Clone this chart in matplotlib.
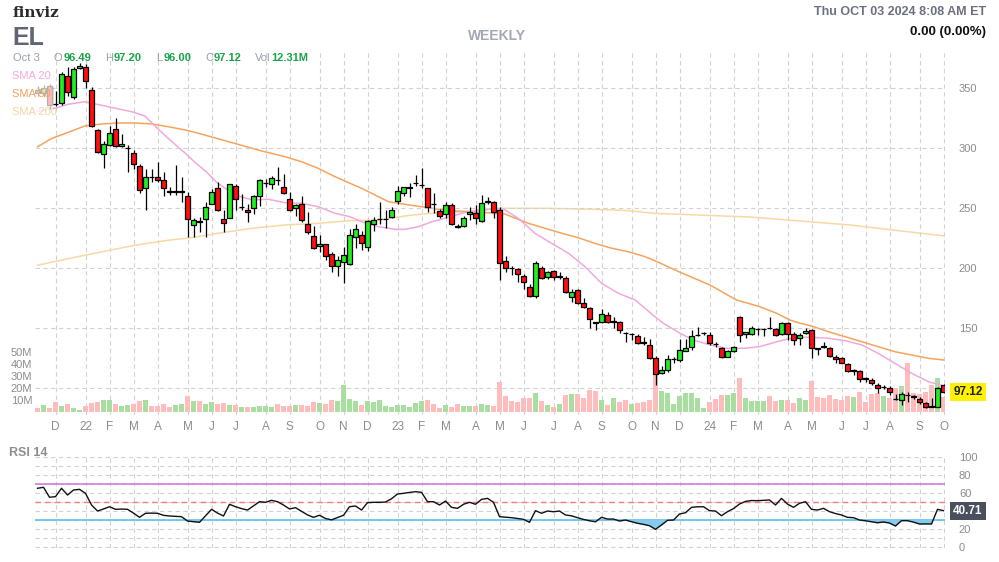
import numpy as np
import pandas as pd
import matplotlib
matplotlib.use('Agg')
import matplotlib.pyplot as plt
from matplotlib.patches import Rectangle
from matplotlib.transforms import blended_transform_factory

plt.rcParams['font.family'] = ['Liberation Sans', 'DejaVu Sans']

# weekly bars, week of 2021-11-08 up to week of 2024-09-30
weeks = pd.date_range('2021-11-08', periods=152, freq='W-MON')

opens = [349, 346, 352, 337, 338, 360, 343, 367, 368, 349,
         315, 295, 303, 316, 302, 300, 296, 285, 267, 276,
         276, 274, 264.1, 264, 264, 260, 236, 239, 241, 254,
         267, 241, 242, 268.5, 251, 249, 250, 260.5, 271, 270,
         273.6, 267.5, 258, 250, 254, 237, 227, 218.3, 220, 212,
         202, 205, 204, 226, 228, 217.5, 237, 241, 241, 242.5,
         256, 262.5, 267, 270.7, 269.4, 266.7, 253.7, 247.8, 245, 252.8,
         234.8, 235.3, 245.3, 245.8, 239.7, 255.5, 255.5, 248.6, 206.4, 200.1,
         199.2, 193.8, 184.2, 176.9, 200, 193, 197.8, 193, 191.7, 176.3,
         181.9, 170.8, 166.7, 154.8, 155.5, 161.1, 155.5, 155, 145.9, 145,
         143.6, 138.1, 136, 125, 112.5, 115.3, 124.3, 123.6, 131.4, 134.7,
         144.3, 145.7, 144.4, 136.8, 133.3, 126.4, 131.4, 159.7, 145.2, 145,
         149.3, 149.3, 150.0, 149.2, 145, 154.2, 145, 141.7, 145.8, 148.6,
         132.9, 134.8, 133.8, 125.8, 125, 120, 114.7, 114.4, 107.9, 107,
         102.8, 100.8, 100, 90.9, 90.3, 94.5, 93.5, 91.1, 87.5, 84.8,
         84.7, 102.5]
highs = [352, 353, 354, 348, 364, 368, 368, 371, 370, 351,
         316, 306, 319, 325, 312, 303, 299, 287, 283, 283,
         289, 280, 268, 286, 276, 264, 242, 243, 255, 266,
         272, 249, 270.5, 270, 262, 254, 261, 274.5, 274.4, 277,
         284.7, 279, 264, 254, 260.5, 247, 235.5, 228, 220.5, 214,
         210, 217.5, 232.5, 237, 231, 240.3, 243, 255.5, 248.6, 251.4,
         268.6, 268, 271.4, 277.8, 283.3, 267.2, 262.5, 249.2, 255.5, 254.2,
         236.9, 243.6, 250.8, 252.8, 261, 259.7, 256.4, 251.3, 210.3, 201.9,
         200, 195.6, 186.7, 205.8, 202.2, 197.5, 198.6, 197.2, 193.6, 182.5,
         182.5, 175, 168, 155.6, 166.1, 163.3, 159.4, 156.1, 147.2, 146.4,
         145.3, 143, 140.8, 127, 118.6, 127.8, 126.4, 140.8, 140.8, 148.6,
         151.4, 146.7, 146.7, 138.9, 134.7, 131.9, 135.3, 160.2, 147.2, 151.9,
         150, 150, 159.7, 150, 155.5, 155.5, 147.2, 145.8, 150, 149.2,
         133.3, 138.9, 134.7, 127.8, 126.4, 120.8, 115.8, 115.3, 109.7, 108.4,
         104.2, 102.8, 102.2, 95.3, 97.2, 97.2, 94.7, 93, 88.9, 92.2,
         101.4, 103.5]
lows = [344, 343, 333, 335, 336, 344, 341, 366, 350, 318,
        296, 284, 302, 301, 301, 280, 283, 263, 249, 272,
        272, 260, 261, 261, 255, 226, 226, 230, 226, 254,
        248, 230, 242, 249, 249, 239, 245, 252, 267.5, 266,
        269.4, 262, 248, 244, 239, 229, 216, 214, 207, 197,
        194, 187.5, 203, 217, 215, 214.6, 231, 237, 233.3, 242,
        254, 260, 259.7, 268.6, 267.2, 247.2, 245.8, 242, 241.7, 236.1,
        233.3, 234.4, 240.3, 236.9, 238.9, 253.6, 241.7, 190.3, 197.2, 194.4,
        188.8, 182.5, 176.3, 175.6, 191.4, 191.4, 190.5, 191.4, 179.7, 172.2,
        170.3, 166.7, 150, 148.6, 154.7, 154.2, 150.6, 146.4, 138.9, 140.6,
        137.2, 136.1, 124.2, 102.8, 111.7, 113.8, 120.8, 122.2, 130.8, 131.9,
        143.6, 144.4, 136.1, 134.7, 125, 125.8, 130.6, 138.9, 141.7, 144.4,
        144.7, 143.6, 149.2, 143.6, 144.4, 140.3, 136.1, 136.1, 145, 125,
        127.8, 133.3, 126.1, 120.8, 120.8, 113.9, 111.1, 105.5, 105.5, 102.8,
        96.1, 99.7, 94.7, 90.4, 86.1, 88.9, 90.8, 87.2, 83.3, 84.6,
        84.7, 96]
closes = [346, 350, 336, 336.8, 362, 347, 366, 369, 356, 319,
          297, 304, 313, 302, 304, 300.1, 287, 265, 276, 275.9,
          274, 267, 264.0, 264.1, 264.1, 241, 240, 238.9, 251, 264,
          249, 238, 270, 257.5, 251.1, 247, 260, 273.5, 271.1, 275,
          273.5, 262.5, 249, 253, 240, 230, 217, 220, 210, 202,
          207, 211, 228, 233, 221, 239.4, 240, 241.1, 241.1, 248.6,
          264.4, 267.5, 267.1, 270.8, 269.5, 250.8, 253.6, 243.6, 253.1, 236.9,
          234.7, 241.7, 246.6, 242.2, 254.2, 255.6, 247.2, 204.2, 200, 200.0,
          195, 188.8, 177.2, 204.2, 192.2, 196.7, 193, 193.1, 180.5, 180.5,
          170.8, 168, 157.5, 154.7, 161.7, 155, 155.6, 148.6, 145.8, 145.1,
          138, 138.0, 125, 111.6, 115.3, 124.2, 124.4, 131.9, 133.3, 143.6,
          144.4, 145.8, 138, 136.7, 126.4, 131.1, 134.2, 144.4, 146.7, 150,
          149.4, 149.4, 149.9, 144.4, 154.2, 145.2, 140.3, 144.4, 147.8, 133.8,
          132.8, 134.7, 126.9, 124.2, 121.3, 114.7, 114.8, 107.5, 107.8, 104.2,
          100, 100.9, 96.7, 90.8, 95, 94.4, 93, 88.3, 84.7, 84.7,
          100, 97.12]
# volume in millions
volumes = [3.1, 5.8, 3.1, 8.3, 5.0, 6.7, 3.1, 1.7, 5.0, 7.2,
           8.3, 10, 10, 6.7, 5.0, 5.8, 6.7, 9.2, 10, 5.0,
           5.0, 6.7, 4.2, 5.8, 6.7, 13.3, 9.2, 9.2, 6.7, 8.3,
           6.7, 7.5, 5.8, 5.8, 4.2, 4.2, 4.2, 5.0, 5.0, 4.2,
           6.7, 5.0, 5.0, 5.8, 5.8, 5.0, 8.3, 7.5, 6.7, 10,
           9.2, 22.5, 10.8, 9.2, 5.8, 9.2, 8.3, 10, 5.0, 4.2,
           5.8, 5.8, 4.2, 7.5, 9.2, 10, 6.7, 3.3, 5.8, 4.2,
           6.7, 5.0, 5.0, 5.0, 6.7, 5.8, 5.0, 25.3, 13.3, 9.2,
           8.3, 11.7, 11.7, 15.8, 9.2, 5.8, 4.2, 6.7, 14.2, 15,
           15, 11.7, 18.3, 17.5, 10, 5.8, 11.7, 8.3, 10, 6.7,
           7.5, 8.3, 10, 39.2, 17.5, 15.8, 6.7, 13.3, 15.8, 15.8,
           11.7, 3.3, 8.3, 10.8, 14.2, 14.2, 15.8, 28, 11.7, 9.2,
           9.2, 9.2, 13.3, 9.2, 10, 10, 7.5, 11.9, 10, 25.8,
           12.5, 11.4, 14.2, 10.8, 10, 13, 12.5, 16.7, 8.3, 15.3,
           15.5, 13.3, 11.9, 19.7, 21.7, 41, 15.5, 14.7, 16.9, 22.5,
           28.6, 12.31]
rsi = [65.6, 66.7, 55.6, 56.3, 65.6, 58.1, 63.7, 64.4, 60, 47,
       40.3, 42.6, 45.1, 42.2, 42.5, 42.2, 38, 33.3, 37.8, 38,
       37.8, 35.5, 34.8, 34.4, 34, 29.2, 28.5, 27.8, 35, 42.2,
       38, 34.8, 47.8, 45.1, 43, 41.4, 46, 50.7, 50, 52.2,
       50.7, 47, 42.6, 44, 40, 36, 33.3, 35.6, 32, 30.5,
       33, 35.6, 45.1, 45.9, 41.4, 49.6, 50, 50, 50.3, 54,
       59.2, 60, 61, 61.8, 61.1, 50.7, 50.7, 47, 51.4, 44.4,
       43.3, 47.8, 50, 47.8, 53.3, 54.4, 50, 34, 33.5, 32.9,
       32, 31.1, 27.8, 40.7, 37.8, 40.3, 39.5, 40.3, 35.9, 35,
       32.9, 31, 29.5, 28.4, 33.3, 31.4, 31.4, 29.2, 30.3, 28.5,
       26.7, 25.5, 24, 20, 24.8, 30, 30.3, 37, 38.4, 44.4,
       45, 45.1, 40.7, 40.3, 35.1, 39.6, 43, 48.1, 51, 52,
       51.8, 52.2, 52.6, 47, 54.4, 48, 44.4, 48.9, 50.7, 42.2,
       41.4, 43.3, 39.6, 37.5, 35.9, 33.3, 32.9, 30.3, 29.5, 28.4,
       27.3, 28.1, 27, 23.7, 29.6, 29.6, 28, 25.9, 26, 25.9,
       42.2, 40.71]

sma20_idx = [0, 2.9, 5.1, 7.9, 9.6, 12.4, 15.7, 17.9, 20.1, 22.4, 24.6, 26.3, 28, 30, 33,
             35.7, 38.5, 41.25, 44, 46.8, 49.6, 52.1, 54, 56.8, 59.6, 61.25, 63.5, 65.7,
             67.9, 70.7, 73.5, 76.25, 77.9, 80.1, 82.9, 85.7, 88.5, 91.25, 94, 96.8, 99.6,
             102.9, 104.3, 107.1, 109.3, 112.1, 114.9, 117.6, 120.4, 123.2, 124.9, 127.1,
             129, 131.8, 134.6, 137.4, 140.1, 142.9, 145.7, 148.5, 151]
sma20_val = [331, 333.3, 336.7, 338.8, 337, 334, 330.5, 326.9, 316.1, 305.5, 296, 288, 281, 271, 261,
             257, 257.5, 254.7, 254.2, 251.3, 245.8, 243, 238.8, 234.7, 232.5, 232.5, 234.7, 238.8,
             241.7, 245.8, 248.6, 250, 248.6, 241.7, 229.2, 220.8, 212.5, 201.3, 187.5, 179.2, 173.6,
             159.7, 154.2, 145.8, 140.3, 136.1, 133.3, 133.3, 134.7, 138.8, 140.8, 142.5,
             142.5, 141.7, 139.7, 136.1, 129.2, 120.8, 112.5, 105.5, 102]
sma50_idx = [0, 2.4, 5.1, 7.9, 10.7, 13.5, 16.25, 19, 21.8, 24.6, 26.25, 31.5, 37.1, 41.25, 44,
             46.8, 49.6, 52.1, 54, 56.8, 58.5, 61.25, 64, 66.8, 69.6, 72.4, 75.1, 77.9, 79,
             81.8, 84.6, 87.4, 90.1, 92.9, 95.7, 98.5, 101.25, 102.9, 107.1, 112.1, 116.5,
             120.4, 123.2, 125.4, 127.1, 129, 131.8, 134.6, 137.4, 140.1, 142.9, 145.7, 148.5, 151]
sma50_val = [301.3, 308.3, 313.3, 318.6, 320.3, 321.1, 321.1, 320.3, 318, 315.3, 313.3, 306, 298.1, 293, 288.8,
             283.3, 276.3, 270.8, 266.7, 259.7, 255.5, 253.3, 251.3, 249.2, 247.75, 247.2, 246.3, 245.25, 243,
             237.5, 233.3, 229.2, 225.5, 220.8, 216.7, 213.8, 209.7, 206.3, 196.7, 186, 173.6,
             168, 162.5, 156.9, 154.2, 151.9, 147.2, 143, 138.8, 134.7, 130.5, 127.75, 125, 123.6]
sma200_idx = [0, 8, 16.25, 21.8, 25.7, 30.1, 35.7, 41.25, 46.8, 52.1, 56.8, 62.4, 67.9, 73.5,
              76.25, 84.6, 92.9, 98.5, 102.9, 118.75, 135.4, 151]
sma200_val = [202.6, 211, 219.25, 223.4, 225.5, 229.2, 233.3, 236.1, 237.5, 239.7, 240.25, 244.4, 246.7, 247.2,
              250, 250, 249.2, 248, 245.8, 242.75, 236.1, 227]

opens = np.array(opens); highs = np.array(highs)
lows = np.array(lows); closes = np.array(closes)
volumes = np.array(volumes); rsi = np.array(rsi)
x = np.arange(len(weeks))
up = closes >= opens

# month ticks: week holding first trading day of the month
fri = weeks + pd.Timedelta(days=4)
tick_idx = [i for i in range(1, len(weeks)) if fri[i].month != fri[i - 1].month]
tick_lbl = [f"{fri[i].year % 100}" if fri[i].month == 1 else fri[i].strftime('%b')[0] for i in tick_idx]

W, H = 999, 562
fig = plt.figure(figsize=(W / 100, H / 100), dpi=100)


def box(x0, y0, x1, y1):
    return [x0 / W, 1 - y1 / H, (x1 - x0) / W, (y1 - y0) / H]


def ftext(xp, yp, s, **kw):
    kw.setdefault('va', 'center')
    return fig.text(xp / W, 1 - yp / H, s, **kw)


grid_kw = dict(color='#d2d2d2', linestyle=(0, (4, 3)), linewidth=0.8)
lab_col = '#8c8c8c'

ax_vol = fig.add_axes(box(35, 52, 945, 415))
ax = fig.add_axes(box(35, 52, 945, 415), sharex=ax_vol)
ax.patch.set_visible(False)
ax_rsi = fig.add_axes(box(35, 455, 945, 548), sharex=ax_vol)

# volume
ax_vol.bar(x, volumes, width=0.78, color=np.where(up, '#a8dea0', '#ffbcbc'), zorder=2)
ax_vol.set_ylim(-2.5, 300)
ax_vol.set_yticks([10, 20, 30, 40, 50])
ax_vol.set_yticklabels(['10M', '20M', '30M', '40M', '50M'])
ax_vol.tick_params(axis='y', length=0, pad=2, labelsize=8, labelcolor=lab_col)
ax_vol.set_xticks(tick_idx)
ax_vol.grid(axis='x', **grid_kw)
ax_vol.set_axisbelow(True)

# price
ax.plot(sma200_idx, sma200_val, color='#f6d9a4', lw=1.1, zorder=1)
ax.plot(sma50_idx, sma50_val, color='#f6a35e', lw=1.1, zorder=1)
ax.plot(sma20_idx, sma20_val, color='#f2a8dc', lw=1.1, zorder=1)
ax.vlines(x, lows, highs, color='black', lw=0.9, zorder=2)
ax.bar(x, np.maximum(np.abs(closes - opens), 0.4), bottom=np.minimum(opens, closes), width=0.72,
       color=np.where(up, '#22ee22', '#ff1010'), edgecolor='black', linewidth=0.9, zorder=3)
ax.set_ylim(77.75, 380.25)
ax.set_xlim(-0.42, 151.25)
ax.yaxis.tick_right()
price_ticks = list(range(100, 351, 50))
ax.set_yticks(price_ticks)
# the 100 label sits under the last-price tag, as on the reference
ax.set_yticklabels(['' if v == 100 else str(v) for v in price_ticks])
ax.tick_params(axis='y', length=0, pad=10, labelsize=8, labelcolor=lab_col)
ax.grid(axis='y', **grid_kw)
ax.set_xticks(tick_idx)
ax.set_xticklabels(tick_lbl)
ax.tick_params(axis='x', length=0, pad=4, labelsize=8.5, labelcolor=lab_col, labelbottom=True)
ax_vol.tick_params(axis='x', labelbottom=False, length=0)

tr = blended_transform_factory(ax.transAxes, ax.transData)
ax.text(1.009, closes[-1], f'{closes[-1]:.2f}', transform=tr, ha='left', va='center', fontsize=8.5,
        fontweight='bold', color='#222222', zorder=6,
        bbox=dict(boxstyle='square,pad=0.25', facecolor='#fff200', edgecolor='none'))

# rsi
rsi_ticks = list(range(0, 101, 10))
ax_rsi.set_ylim(-0.8, 102.6)
ax_rsi.set_yticks(rsi_ticks)
ax_rsi.set_yticklabels([str(v) if v % 20 == 0 and v != 40 else '' for v in rsi_ticks])
ax_rsi.yaxis.tick_right()
ax_rsi.tick_params(axis='y', length=0, pad=10, labelsize=8, labelcolor=lab_col)
ax_rsi.tick_params(axis='x', length=0, labelbottom=False)
ax_rsi.grid(axis='both', **grid_kw)
ax_rsi.set_axisbelow(True)
ax_rsi.axhline(70, color='#cf7fe0', lw=1.2)
ax_rsi.axhline(50, color='#f47c7c', lw=1.0, linestyle=(0, (4, 3)))
ax_rsi.axhline(30, color='#5cc0ea', lw=1.2)
ax_rsi.fill_between(x, rsi, 30, where=rsi < 30, interpolate=True, color='#86cbee', zorder=2)
ax_rsi.plot(x, rsi, color='#111111', lw=1.0, zorder=3)
tr2 = blended_transform_factory(ax_rsi.transAxes, ax_rsi.transData)
ax_rsi.text(1.009, rsi[-1], f'{rsi[-1]:.2f}', transform=tr2, ha='left', va='center', fontsize=8.5,
            fontweight='bold', color='white',
            bbox=dict(boxstyle='square,pad=0.25', facecolor='#4a4f5e', edgecolor='none'))

for a in (ax, ax_vol, ax_rsi):
    for s in a.spines.values():
        s.set_visible(False)

# legend veil over the first candles
fig.add_artist(Rectangle((10 / W, 1 - 120 / H), 43 / W, 52 / H, transform=fig.transFigure,
                         facecolor='white', alpha=0.7, edgecolor='none', zorder=5))
ftext(12, 76, 'SMA 20', fontsize=8, color='#f4a8dc', zorder=6)
ftext(12, 94, 'SMA 50', fontsize=8, color='#f7a05a', zorder=6)
ftext(12, 112, 'SMA 200', fontsize=8, color='#f2d6a0', zorder=6)

# header
ftext(13, 13, 'finviz', fontsize=11, fontweight='bold', family='DejaVu Serif', color='#2a2a2a')
ftext(12, 38, 'EL', fontsize=18, fontweight='bold', color='#5f6575')
ftext(497, 36, 'WEEKLY', fontsize=10, fontweight='bold', color='#a4a8b4', ha='center')
ftext(986, 12, 'Thu OCT 03 2024 8:08 AM ET', fontsize=9, fontweight='bold', color='#6b7080', ha='right')
ftext(986, 32, '0.00 (0.00%)', fontsize=9.5, fontweight='bold', color='#111111', ha='right')

grey = '#9ba0aa'
green = '#1aa34a'
renderer = fig.canvas.get_renderer()
ftext(13, 58, 'Oct 3', fontsize=8, color=grey)
for lx, lab, val in [(54, 'O', '96.49'), (105, 'H', '97.20'), (156, 'L', '96.00'),
                     (205, 'C', '97.12'), (255, 'Vol', '12.31M')]:
    t = ftext(lx, 58, lab, fontsize=8, color=grey)
    x1 = t.get_window_extent(renderer).x1
    fig.text((x1 + 1) / W, 1 - 58 / H, val, va='center', fontsize=8, fontweight='bold', color=green)

ftext(9, 453, 'RSI 14', fontsize=9, fontweight='bold', color='#8e8e8e')

fig.savefig('out.png', dpi=100)
